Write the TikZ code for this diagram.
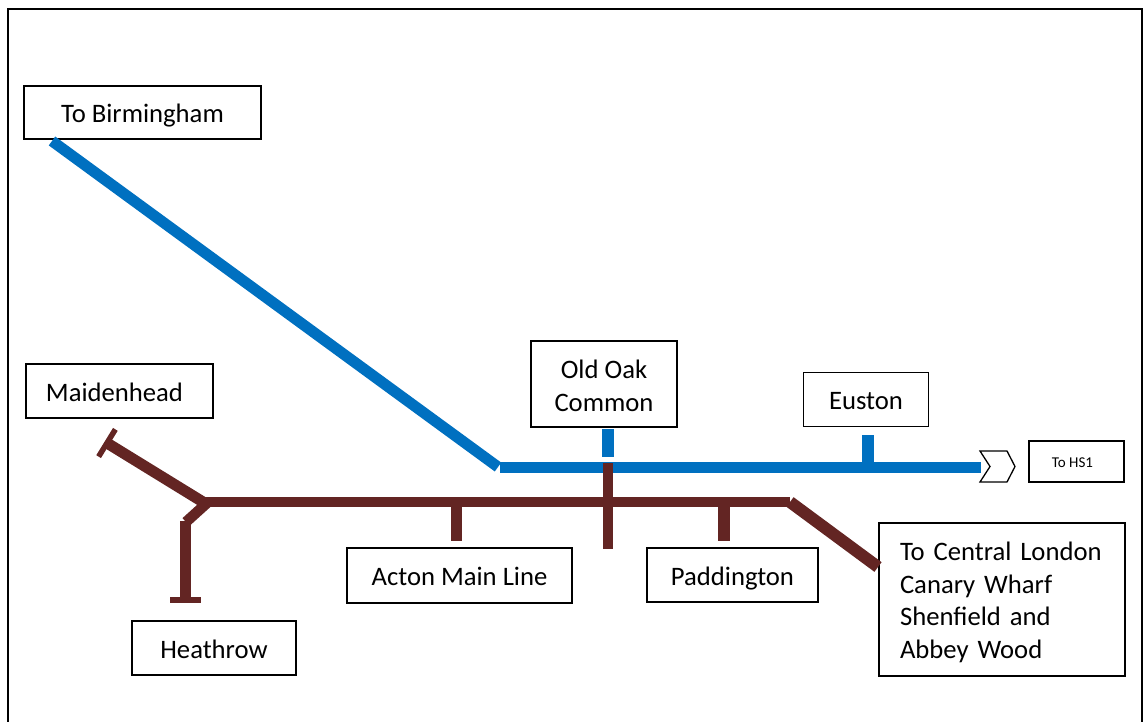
\documentclass[tikz,border=0pt]{standalone}
\usepackage{fontspec}
\setmainfont{Carlito}
\usetikzlibrary{calc}
\definecolor{hsblue}{HTML}{0070C0}
\definecolor{xrbrown}{HTML}{632523}
\begin{document}
\begin{tikzpicture}[x=1pt,y=-1pt,
  box/.style={draw=black, line width=1.3pt, fill=white, inner sep=0pt},
  lbl/.style={inner sep=0pt, yshift=-3pt, font=\fontsize{26.67}{32.7}\selectfont, align=center},
  one/.style={lbl, text height=18.5pt, text depth=6.7pt, yshift=-1.5pt},
  blueline/.style={hsblue, line width=11pt},
  brownline/.style={xrbrown, line width=10.5pt},
  stopbar/.style={xrbrown, line width=5.5pt}]
\path[use as bounding box] (0,0) rectangle (1145,722);
\draw[line width=2pt] (8,723) -- (8,9) -- (1142,9) -- (1142,723);

% boxes
\node[box, minimum width=237pt, minimum height=53pt,
  label={[one]center:To Birmingham}] (bham) at (142.5,112.5) {};
\node[box, minimum width=187pt, minimum height=54pt,
  label={[one, xshift=-5pt]center:Maidenhead}] (maid) at (119.5,391) {};
\node[box, minimum width=164pt, minimum height=54pt,
  label={[one]center:Heathrow}] (heath) at (214,648) {};
\node[box, minimum width=146pt, minimum height=86pt,
  label={[lbl, yshift=1pt]center:Old Oak\\Common}] (ooc) at (604,384) {};
\node[box, minimum width=125pt, minimum height=54pt,
  label={[one]center:Euston}] (euston) at (866,399.5) {};
\node[box, minimum width=225pt, minimum height=55pt,
  label={[one]center:Acton Main Line}] (acton) at (459.5,575.5) {};
\node[box, minimum width=171pt, minimum height=54pt,
  label={[one]center:Paddington}] (padd) at (732.5,575) {};
\node[box, minimum width=246pt, minimum height=153pt,
  label={[lbl, align=left, text width=204pt]center:To Central London\\Canary Wharf\\Shenfield and\\Abbey Wood}] (central) at (1002,599.5) {};
\node[box, minimum width=95pt, minimum height=41pt,
  label={[lbl, yshift=1.5pt, xshift=-4pt, font=\fontsize{15}{18}\selectfont]center:To HS1}] (hs1) at (1076.5,461.5) {};

% track coordinates
\coordinate (bstart) at (52,141);
\coordinate (bjoin) at (498,467);
\coordinate (bh) at (500,467);
\coordinate (bend) at (981,467);
\coordinate (oocb1) at (608,429);
\coordinate (oocb2) at (608,457);
\coordinate (eus1) at (868,435);
\coordinate (eus2) at (868,467);

\coordinate (rj) at (203,502);
\coordinate (rend) at (790,502);
\coordinate (cl) at (878,567);
\coordinate (mend) at (107,443);
\coordinate (hj) at (207,503);
\coordinate (hk) at (186,522);
\coordinate (hk2) at (185.5,521);
\coordinate (hend) at (185.5,600);
\coordinate (ooc1) at (608,463);
\coordinate (ooc2) at (608,549);
\coordinate (act1) at (456,502);
\coordinate (act2) at (456,541);
\coordinate (pad1) at (724,502);
\coordinate (pad2) at (724,541);

% blue line (HS2)
\draw[blueline] (bstart) -- (bjoin);
\draw[blueline] (bh) -- (bend);
\draw[blueline, line width=12pt] (oocb1) -- (oocb2);
\draw[blueline, line width=12pt] (eus1) -- (eus2);
\draw[line width=1.3pt, fill=white] (980,451) -- (1007,451) -- (1015,466.5) -- (1007,482) -- (980,482) -- (990,466.5) -- cycle;

% brown line (Crossrail)
\draw[brownline] (ooc1) -- (ooc2);
\draw[brownline] (rj) -- (rend);
\draw[brownline, line width=12pt] (rend) -- (cl);
\draw[brownline, line width=11pt] (mend) -- (rj);
\draw[stopbar] ($(mend)!16pt!90:(rj)$) -- ($(mend)!16pt!-90:(rj)$);
\draw[brownline] (hj) -- (hk);
\draw[brownline, line width=11pt] (hk2) -- (hend);
\draw[stopbar] (170,600) -- (201,600);
\draw[brownline, line width=11pt] (act1) -- (act2);
\draw[brownline, line width=12pt] (pad1) -- (pad2);
\end{tikzpicture}
\end{document}
